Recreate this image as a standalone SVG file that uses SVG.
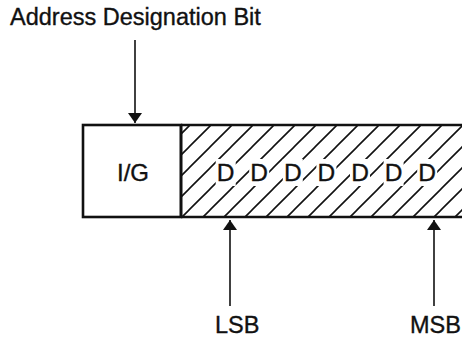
<svg xmlns="http://www.w3.org/2000/svg" width="462" height="339" viewBox="0 0 462 339">
<style>
text{font-family:"Liberation Sans",Arial,sans-serif;fill:#111;}
.lbl{font-size:23.5px;stroke:#111;stroke-width:0.35px;}
.d{font-size:24.5px;text-anchor:middle;stroke:#111;stroke-width:0.35px;}
.gap{fill:#fff;}
.box{fill:none;stroke:#111;stroke-width:2.6;}
.conn{stroke:#111;stroke-width:1.6;fill:none;}
.hatch{stroke:#111;stroke-width:1.6;}
</style>
<defs>
<marker id="ah" viewBox="0 0 10 14" refX="10" refY="7" markerWidth="10" markerHeight="14" markerUnits="userSpaceOnUse" orient="auto">
<path d="M0,0 L10,7 L0,14 Z" fill="#111"/>
</marker>
<clipPath id="hc"><rect x="181" y="125" width="290" height="92"/></clipPath>
<pattern id="hp" patternUnits="userSpaceOnUse" width="21" height="21">
<path d="M-2,2 L2,-2 M0,21 L21,0 M19,23 L23,19" class="hatch"/>
</pattern>
</defs>
<text class="lbl" x="10" y="25">Address Designation Bit</text>
<g id="ig-cell">
<rect x="83" y="125" width="98" height="92" class="box"/>
<text class="lbl" x="133" y="181" text-anchor="middle" style="font-size:24px">I/G</text>
</g>
<g id="data-cell">
<rect x="181" y="125" width="290" height="92" fill="url(#hp)" clip-path="url(#hc)"/>
<line x1="181" y1="125" x2="462" y2="125" class="box"/>
<line x1="181" y1="217" x2="462" y2="217" class="box"/>
<line x1="181" y1="125" x2="181" y2="217" class="box"/>
<rect class="gap" x="215.7" y="159" width="20" height="27"/>
<rect class="gap" x="249.2" y="159" width="20" height="27"/>
<rect class="gap" x="282.8" y="159" width="20" height="27"/>
<rect class="gap" x="316.4" y="159" width="20" height="27"/>
<rect class="gap" x="350" y="159" width="20" height="27"/>
<rect class="gap" x="383.6" y="159" width="20" height="27"/>
<rect class="gap" x="417.2" y="159" width="20" height="27"/>
<text class="d" x="225.7" y="181">D</text>
<text class="d" x="259.2" y="181">D</text>
<text class="d" x="292.8" y="181">D</text>
<text class="d" x="326.4" y="181">D</text>
<text class="d" x="360" y="181">D</text>
<text class="d" x="393.6" y="181">D</text>
<text class="d" x="427.2" y="181">D</text>
</g>
<g id="lsb">
<text class="lbl" x="215" y="333">LSB</text>
</g>
<g id="msb">
<text class="lbl" x="410" y="333">MSB</text>
</g>
<g id="connectors">
<line x1="135" y1="40" x2="135" y2="123" class="conn" marker-end="url(#ah)"/>
<line x1="230" y1="306" x2="230" y2="220" class="conn" marker-end="url(#ah)"/>
<line x1="434" y1="306" x2="434" y2="220" class="conn" marker-end="url(#ah)"/>
</g>
</svg>
